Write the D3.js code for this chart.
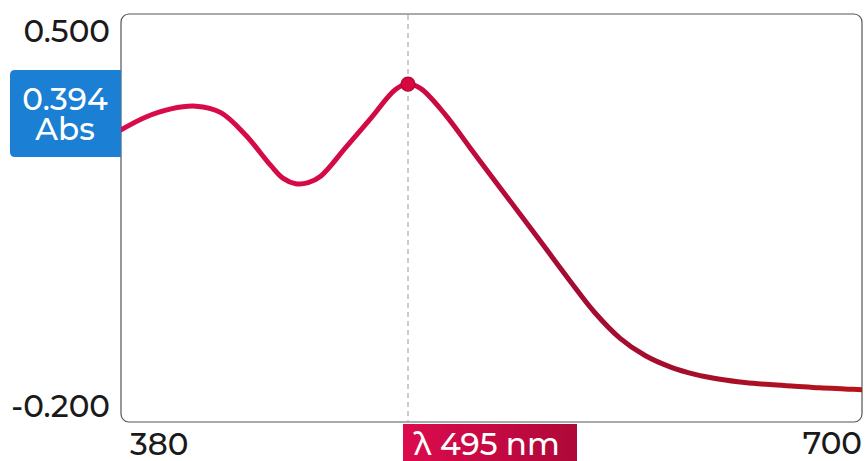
<!DOCTYPE html>
<html><head><meta charset="utf-8">
<script src="https://cdn.jsdelivr.net/npm/d3@7"></script>
<style>html,body{margin:0;padding:0;background:#fff;}svg{display:block;}</style>
</head><body>
<svg id="c" width="865" height="461"></svg>
<script>
const wavelengths = [380,390,400,410,420,430,440,445,450,455,460,470,480,490,495,500,510,520,530,540,550,560,570,580,590,600,610,620,630,640,650,660,670,680,690,700];
const absorbance  = [0.309,0.333,0.348,0.353,0.341,0.299,0.243,0.219,0.209,0.211,0.223,0.276,0.330,0.384,0.394,0.386,0.337,0.275,0.213,0.152,0.090,0.028,-0.031,-0.078,-0.110,-0.131,-0.145,-0.154,-0.160,-0.164,-0.167,-0.170,-0.172,-0.174,-0.175,-0.176];
const yTickLabels = ["0.500","-0.200"];
const yTickValues = [0.5,-0.2];
const xTickLabels = ["380","700"];
const peakWavelength = 495;
const peakValue = 0.394;

const svg = d3.select("#c");
const font = "Montserrat, 'Open Sans', sans-serif";
const fs = 31;
const L = 121, R = 862, T = 14, B = 422;

const x = d3.scaleLinear().domain([380, 495]).range([L, 408]);
const y = d3.scaleLinear().domain([-0.2, 0.5]).range([404, 27]);

const defs = svg.append("defs");
defs.append("clipPath").attr("id","clip").append("rect")
  .attr("x",L).attr("y",T).attr("width",R-L).attr("height",B-T).attr("rx",8);
const lg = defs.append("linearGradient").attr("id","lg").attr("gradientUnits","userSpaceOnUse")
  .attr("x1",L).attr("x2",R).attr("y1",0).attr("y2",0);
[[0,"#d90c4a"],[0.4,"#d00a44"],[0.6,"#a30c33"],[0.8,"#a50f28"],[1,"#b5151a"]].forEach(([o,c])=>lg.append("stop").attr("offset",o).attr("stop-color",c));
const bg = defs.append("linearGradient").attr("id","bg");
bg.append("stop").attr("offset",0).attr("stop-color","#dc0b4e");
bg.append("stop").attr("offset",1).attr("stop-color","#ae0838");

// plot frame
svg.append("rect").attr("x",L).attr("y",T).attr("width",R-L).attr("height",B-T).attr("rx",8)
  .attr("fill","#fff").attr("stroke","#555").attr("stroke-width",1.2);

// dashed guide
svg.append("line").attr("x1",x(peakWavelength)).attr("x2",x(peakWavelength))
  .attr("y1",T+1).attr("y2",B-1).attr("stroke","#9a9a9a").attr("stroke-width",1).attr("stroke-dasharray","5,4");

// curve
const data = wavelengths.map((w,i)=>({w, v: absorbance[i]}));
const line = d3.line().x(d=>x(d.w)).y(d=>y(d.v)).curve(d3.curveCatmullRom.alpha(0.5));
svg.append("g").attr("clip-path","url(#clip)").append("path").datum(data)
  .attr("d",line).attr("fill","none").attr("stroke","url(#lg)").attr("stroke-width",5)
  .attr("stroke-linecap","round").attr("stroke-linejoin","round");

// peak dot
svg.append("circle").attr("cx",x(peakWavelength)).attr("cy",y(peakValue)).attr("r",7)
  .attr("fill","#d6083f").attr("stroke","#b0062f").attr("stroke-width",1.2);

const txt = (sel) => sel.attr("font-family",font).attr("font-size",fs).attr("font-weight",500);

// y tick labels
txt(svg.append("text")).attr("x",110).attr("y",y(yTickValues[0])+15).attr("text-anchor","end")
  .attr("fill","#1a1a1a").text(yTickLabels[0]);
txt(svg.append("text")).attr("x",110).attr("y",y(yTickValues[1])+13).attr("text-anchor","end")
  .attr("fill","#1a1a1a").text(yTickLabels[1]);

// x tick labels
txt(svg.append("text")).attr("x",x(380)+9).attr("y",455).attr("text-anchor","start")
  .attr("fill","#1a1a1a").text(xTickLabels[0]);
txt(svg.append("text")).attr("x",R).attr("y",454).attr("text-anchor","end")
  .attr("fill","#1a1a1a").text(xTickLabels[1]);

// left badge
svg.append("path").attr("d","M121,70 L15,70 Q10,70 10,75 L10,152 Q10,157 15,157 L121,157 Z").attr("fill","#1b7fd4");
txt(svg.append("text")).attr("x",65).attr("y",y(peakValue)+26).attr("text-anchor","middle")
  .attr("fill","#fff").text(d3.format(".3f")(peakValue));
txt(svg.append("text")).attr("x",65).attr("y",y(peakValue)+56).attr("text-anchor","middle")
  .attr("fill","#fff").text("Abs");

// bottom badge
svg.append("rect").attr("x",x(peakWavelength)-5).attr("y",424).attr("width",174).attr("height",45).attr("fill","url(#bg)");
txt(svg.append("text")).attr("x",x(peakWavelength)-5+84).attr("y",455).attr("text-anchor","middle")
  .attr("fill","#fff").text("λ " + peakWavelength + " nm");
</script>
</body></html>
